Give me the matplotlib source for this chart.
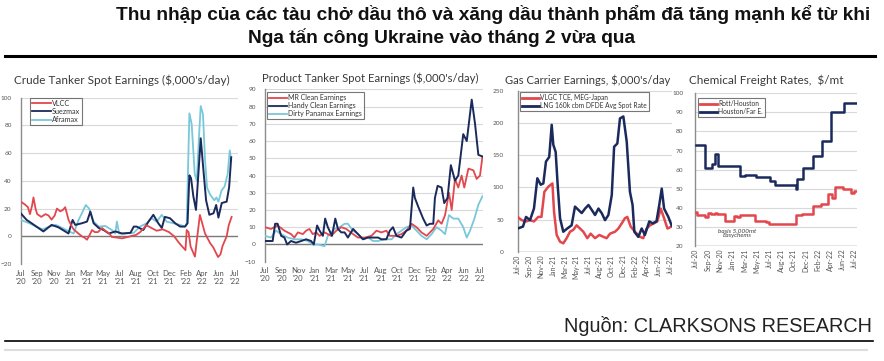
import matplotlib
matplotlib.use('Agg')
import matplotlib.pyplot as plt
from matplotlib import font_manager as fm
from matplotlib.lines import Line2D

W, H, DPI = 884, 361, 100

def have(f):
    try:
        fm.findfont(fm.FontProperties(family=f), fallback_to_default=False)
        return True
    except Exception:
        return False

NARROW = 'Liberation Sans Narrow' if have('Liberation Sans Narrow') else 'Liberation Sans'
SANS = 'Liberation Sans' if have('Liberation Sans') else 'DejaVu Sans'
PANEL = 'Lato' if have('Lato') else 'DejaVu Sans'

# ---------------- data ----------------
tick_weeks = [0, 8, 16, 24, 32, 40, 48, 56, 64, 72, 80, 88, 96, 104]
labels_two_line = ["Jul\n'20", "Sep\n'20", "Nov\n'20", "Jan\n'21", "Mar\n'21", "May\n'21", "Jul\n'21",
                   "Aug\n'21", "Oct\n'21", "Dec\n'21", "Feb\n'22", "Apr\n'22", "Jun\n'22", "Jul\n'22"]
labels_rot = ["Jul-20", "Sep-20", "Nov-20", "Jan-21", "Mar-21", "May-21", "Jul-21",
              "Aug-21", "Oct-21", "Dec-21", "Feb-22", "Apr-22", "Jun-22", "Jul-22"]

# Crude tanker spot earnings ($,000's/day)
vlcc_w = [0, 2, 3.5, 4.5, 5.5, 6.2, 7.2, 8, 10, 12, 13.5, 15, 16.5, 17.6, 19.2, 20.5, 21.6, 22.5, 23.2, 24.5,
          25.7, 28, 29.7, 31, 32.2, 33.5, 34.6, 36, 37.5, 39.5, 41.5, 43, 44.3, 47, 49.2, 52, 54, 56, 58, 61,
          63.5, 66, 69, 72, 74.5, 77, 80, 80.6, 81.5, 82.5, 84.6, 85.5, 87, 89.5, 92, 93.5, 95.8, 97, 98, 100,
          101, 102.4]
vlcc_v = [25, 23, 21, 16, 22, 28, 20, 16, 14, 16, 15, 12, 15, 20, 18, 19, 21, 16, 12, 8,
          5, 2, 0, -1, -2.5, 1, 4.5, 3, 3, 6, 3.5, 2, -0.5, -1, -1.5, -0.5, 0.3, 1, 3, 8,
          6, 4, 5, 3, 0, -5, -10, 4.5, 3, -7.5, -14.7, -3, 15.4, 2, -5, -8, -15, -13, -7, 0,
          8, 14]
suez_w = [0, 2.9, 5.3, 8.6, 11, 15, 18.3, 21.6, 23.2, 25.2, 26.5, 29.7, 32.2, 33.8, 35.4, 37.9, 40.3, 42.8,
          46, 49.2, 53.3, 54.9, 56.3, 59.5, 62, 64.4, 66.8, 68.5, 70, 72.5, 75, 77.4, 79.8, 81, 81.9, 82.7,
          83.8, 85.1, 87.4, 88.7, 90, 91.6, 93.6, 94.9, 96, 97.6, 100, 101.2, 102.2]
suez_v = [16.6, 11.8, 9.4, 6, 3.5, 8.2, 6.5, 3.5, 2, 11.8, 8.2, 9.4, 10.6, 17.8, 9.4, 6, 4.5, 2,
          3.5, 2, 2.5, 7, 7, 4.5, 10.5, 15.5, 9.4, 6, 14, 13, 9.4, 7, 7, 9.4, 44, 42,
          29, 19, 70.7, 48, 26, 15.5, 16.6, 22.6, 13.5, 24, 25, 35.5, 57]
afra_w = [0, 4.2, 7.4, 10.7, 13.9, 17, 20.2, 23.5, 25.7, 28.1, 29.7, 31.6, 33.2, 35.4, 37.9, 41, 44.3, 45.9,
          46.7, 47.8, 50.7, 54.9, 57.9, 61.2, 63.6, 66, 68.5, 70.9, 74.2, 77.4, 79.8, 80.6, 81.9, 83, 84.5,
          85.5, 86.5, 87.4, 88.5, 89.5, 90.5, 92, 94, 95, 96, 97.5, 99, 100.5, 101.5, 102.2]
afra_v = [11.8, 9.4, 7, 5, 7, 8.2, 6, 3.5, 2, 11.8, 16.6, 22.6, 20, 10.6, 7, 7.5, 4.5, 2,
          10.6, 2, 2, 2.5, 7, 9.4, 13, 10.5, 15.5, 10.5, 9.4, 8.2, 7, 9.4, 88.7, 81, 45,
          40, 70, 94, 88, 55, 35, 30, 26, 28, 25, 33, 36, 45, 62, 55]

# Product tanker spot earnings ($,000's/day)
mr_w = [0, 2.9, 6.1, 9.4, 12.6, 14.2, 15.9, 18.3, 19.9, 21.5, 23.1, 24.8, 26.4, 28.8, 32.0, 34.5, 36.9, 39.3,
        42.6, 45.0, 48.2, 51.5, 53.9, 56.3, 58.7, 60.4, 63.6, 66.0, 68.4, 70.9, 73.3, 75.7, 78.2, 79.8, 81.4,
        83.8, 85.4, 87.1, 89.0, 90.3, 91.9, 93.5, 95.1, 96.4, 98.4, 100.8, 102.4, 104.0, 105.2]
mr_v = [10, 9, 11, 8, 6, 4, 7, 6, 8, 9, 6, 7, 5, 7, 5, 8, 10, 9,
        6, 4, 4, 5, 8, 7, 8, 5, 5, 6, 8, 12, 10, 7, 5, 7, 9,
        14, 12, 17, 30, 20, 38, 33, 40, 33, 44, 43, 38, 40, 51]
handy_w = [0, 2.1, 3.7, 4.9, 6.1, 7.8, 9.4, 10.7, 12.6, 15.0, 17.5, 19.9, 22.3, 23.6, 25.2, 26.4, 28.0, 29.1,
           30.4, 32.4, 34.0, 35.3, 36.9, 38.5, 40.1, 42.6, 45.0, 47.4, 49.8, 52.3, 54.7, 56.3, 58.7, 60.4,
           61.9, 63.6, 66.0, 68.4, 70.1, 71.7, 72.5, 74.1, 76.5, 78.2, 79.8, 81.4, 82.2, 83.5, 85.4, 86.7,
           88.3, 89.9, 91.9, 93.5, 95.9, 97.6, 100.0, 101.6, 103.2, 105.2]
handy_v = [2, 2, 2, 12, 12, 5, 4, 0, 2, 1, 2, 3, 2, 0, 11, 8, 5, 15,
           10, 5, 15, 9, 7, 7, 4, 9, 6, 3, 4, 4, 4, 3, 3, 8,
           10, 5, 4, 8, 9, 33, 27, 22, 15, 11, 12, 12, 27, 34, 33, 24,
           27, 46, 37, 40, 64, 60, 84, 70, 52, 51]
pmax_w = [0, 2.9, 5.3, 7.8, 11.0, 14.2, 17.5, 20.7, 23.1, 25.6, 28.8, 30.4, 33.7, 36.1, 38.5, 40.1, 42.6, 45.0,
          47.4, 49.8, 52.3, 54.7, 57.9, 61.2, 63.6, 66.0, 68.4, 70.9, 73.3, 75.7, 78.2, 80.6, 83.0, 85.4,
          87.1, 89.0, 91.1, 93.5, 95.9, 97.6, 99.2, 101.3, 103.2, 105.2]
pmax_v = [5, 4, 8, 6, 4, 3, 3, 2, 0, 0, -1, 5, 9, 10, 12, 12, 8, 6,
          3, 4, 2, 2, 3, 3, 6, 8, 10, 11, 8, 5, 3, 6, 10, 8,
          6, 17, 15, 15, 10, 4, 8, 15, 23, 28]

# Gas carrier earnings ($,000's/day)
lng_w = [0, 3.6, 5.7, 8.4, 11.1, 13.4, 15.7, 17.5, 19.3, 21.5, 23.2, 24.3, 25.9, 27.3, 28.9, 31.1, 33.8, 36.8,
         39.1, 41.4, 43.7, 46, 48.3, 50.5, 52.8, 55.1, 57.3, 59.6, 61.9, 64.2, 65.8, 68, 69.8, 72.1, 74.4,
         76.6, 78.4, 79.6, 82.3, 84.6, 86.8, 89.8, 92, 94.7, 96.6, 98.3, 99.9, 102.8, 105]
lng_v = [36, 39, 54, 49, 67, 114, 104, 106, 140, 147, 197, 166, 155, 103, 52, 31, 36, 41,
         70, 65, 60, 67, 72.5, 65, 57, 67, 60, 49, 57, 88, 163, 168, 207, 210, 171,
         93, 72.5, 31, 23, 36, 26, 47, 44, 47, 72.5, 98, 67, 54, 41]
vlgc_w = [0, 2.7, 5.7, 8.4, 11.1, 14, 16.2, 18.2, 20.9, 23.7, 24.8, 26.6, 28.9, 31.1, 33.4, 35.7, 38, 40.2,
          42.5, 44.8, 47.5, 49.8, 52.8, 55.7, 58.5, 60.7, 63, 66.4, 68.7, 71, 73.2, 74.8, 77.1, 80, 83.5,
          85.7, 88, 90.3, 93, 95.3, 97.6, 99.9, 102.2, 105]
vlgc_v = [54, 49, 47, 49, 47, 54, 54, 93, 101, 106, 62, 26, 15.5, 13, 21, 31, 34, 41,
          36, 31, 21, 28, 21, 26, 23, 21, 28, 31, 36, 44, 52, 54, 39, 31, 23,
          21, 36, 41, 44, 47, 67, 52, 36, 39]

# Chemical freight rates ($/mt), step series: week of change, new level
hfe_w = [0, 3.9, 6, 10.4, 12.6, 14.8, 29, 32, 39.8, 48.5, 51.7, 63.7, 65.4, 66.5, 70.2, 76.7, 82.6, 88.7,
         97.4, 105]
hfe_v = [73, 73, 61, 63, 68, 62, 56.5, 57, 56, 54, 52, 52, 50, 55, 61, 67, 75, 90, 95, 95]
rott_w = [0, 1, 3.9, 6, 8, 10, 12.6, 14, 19, 22, 25, 27, 29, 37, 39, 46, 48, 65.9, 69.8, 76.7, 82.2, 86.5,
          89.3, 91.3, 96.3, 101.7, 104, 105]
rott_v = [38, 36, 36, 35, 37.5, 37, 37.5, 37, 33, 33, 35.5, 35, 36.5, 36.5, 33, 32.5, 31.5, 36, 37, 41, 42, 47,
          45, 51, 50, 48, 49, 49]

# ---------------- style ----------------
RED = '#e2474d'
NAVY = '#1b2a5c'
LBLUE = '#78c8da'
GRID = '#d9d9d9'
ZERO = '#7a7a7a'

fig = plt.figure(figsize=(W / DPI, H / DPI), dpi=DPI)
fig.patch.set_facecolor('white')


def px_rect(l, t, r, b):
    return [l / W, 1 - b / H, (r - l) / W, (b - t) / H]


def fx(x):
    return x / W


def fy(y):
    return 1 - y / H


def fit(t, target_px):
    fig.canvas.draw()
    r = fig.canvas.get_renderer()
    w = t.get_window_extent(r).width
    t.set_fontsize(t.get_fontsize() * target_px / w)


def style_axes(ax, ylim, yticks, xlim, zero, ylab_pad, rot):
    ax.set_ylim(*ylim)
    ax.set_xlim(*xlim)
    for s in ['top', 'right', 'bottom']:
        ax.spines[s].set_visible(False)
    ax.spines['left'].set_color('#8c8c8c')
    ax.spines['left'].set_linewidth(1.0)
    ax.set_yticks(yticks)
    ax.tick_params(axis='y', length=0, pad=ylab_pad, labelsize=4.6, labelcolor='#555555')
    for yv in yticks:
        if yv == zero:
            ax.axhline(yv, color=ZERO, lw=1.0, zorder=1)
        else:
            ax.axhline(yv, color=GRID, lw=0.8, zorder=0)
    ax.set_xticks(tick_weeks)
    if rot:
        ax.set_xticklabels(labels_rot, rotation=90, fontsize=5.0, color='#555555', family=PANEL)
        ax.tick_params(axis='x', length=0, pad=2)
    else:
        ax.set_xticklabels(labels_two_line, fontsize=5.6, color='#555555', family=PANEL, linespacing=1.2)
        ax.tick_params(axis='x', length=0, pad=4)
    for lab in ax.get_yticklabels():
        lab.set_family(PANEL)


def panel_title(text, cx, cy, width):
    t = fig.text(fx(cx), fy(cy), text, ha='center', va='center', fontsize=7, color='#3a3a3a', family=PANEL)
    fit(t, width)


def legend(ax, handles, anchor, fs, lw):
    hs = [Line2D([0], [0], color=c, lw=lw) for c, _ in handles]
    lg = ax.legend(hs, [l for _, l in handles], loc='upper left', bbox_to_anchor=anchor, borderaxespad=0,
                   frameon=True, fancybox=False, handlelength=2.6, handletextpad=0.1,
                   labelspacing=0.15, borderpad=0.3, prop={'family': PANEL, 'size': fs})
    lg.get_frame().set_edgecolor('#555555')
    lg.get_frame().set_linewidth(0.8)
    for t in lg.get_texts():
        t.set_color('#333333')


# Panel 1
ax1 = fig.add_axes(px_rect(20.7, 97.7, 238, 264))
style_axes(ax1, (-20, 100), [-20, 0, 20, 40, 60, 80, 100], (0, 105.5), 0, 6.5, False)
ax1.plot(afra_w, afra_v, color=LBLUE, lw=1.3, zorder=3)
ax1.plot(suez_w, suez_v, color=NAVY, lw=1.4, zorder=4)
ax1.plot(vlcc_w, vlcc_v, color=RED, lw=1.3, zorder=5)
legend(ax1, [(RED, 'VLCC'), (NAVY, 'Suezmax'), (LBLUE, 'Aframax')], (0.043, 1.0), 5.2, 1.3)
panel_title("Crude Tanker Spot Earnings ($,000's/day)", 122, 80.5, 215)

# Panel 2
ax2 = fig.add_axes(px_rect(265, 89.3, 483.3, 261.7))
style_axes(ax2, (-10, 90), list(range(-10, 91, 10)), (0, 105.6), 0, 6.5, False)
ax2.plot(pmax_w, pmax_v, color=LBLUE, lw=1.3, zorder=3)
ax2.plot(mr_w, mr_v, color=RED, lw=1.3, zorder=4)
ax2.plot(handy_w, handy_v, color=NAVY, lw=1.4, zorder=5)
legend(ax2, [(RED, 'MR Clean Earnings'), (NAVY, 'Handy Clean Earnings'), (LBLUE, 'Dirty Panamax Earnings')],
       (0.01, 0.985), 5.0, 1.3)
panel_title("Product Tanker Spot Earnings ($,000's/day)", 370, 78, 216)

# Panel 3
ax3 = fig.add_axes(px_rect(517.7, 90.7, 671.7, 251.7))
style_axes(ax3, (0, 250), [0, 50, 100, 150, 200, 250], (0, 105.1), 0, 10, True)
ax3.plot(vlgc_w, vlgc_v, color=RED, lw=1.8, zorder=3)
ax3.plot(lng_w, lng_v, color=NAVY, lw=1.8, zorder=4)
legend(ax3, [(RED, 'VLGC TCE, MEG-Japan'), (NAVY, 'LNG 160k cbm DFDE Avg Spot Rate')], (0.015, 0.99), 4.8, 2.0)
panel_title("Gas Carrier Earnings, $,000's/day", 587.5, 80, 165)

# Panel 4
ax4 = fig.add_axes(px_rect(695, 93.3, 856.7, 246))
style_axes(ax4, (20, 100), list(range(20, 101, 10)), (-0.5, 105.5), 20, 8.5, True)
ax4.plot(rott_w, rott_v, color=RED, lw=1.8, drawstyle='steps-post', zorder=3)
ax4.plot(hfe_w, hfe_v, color=NAVY, lw=1.8, drawstyle='steps-post', zorder=4)
legend(ax4, [(RED, 'Rott/Houston'), (NAVY, 'Houston/Far E.')], (0.019, 0.97), 4.8, 2.0)
ax4.text(0.26, 0.085, "basis 5,000mt\nEasychems", transform=ax4.transAxes, ha='center', va='center',
         fontsize=4.6, style='italic', color='#404040', family=PANEL, linespacing=1.0)
panel_title("Chemical Freight Rates,  $/mt", 766, 80.5, 153)

# Main title
t1 = fig.text(fx(493), fy(15), "Thu nhập của các tàu chở dầu thô và xăng dầu thành phẩm đã tăng mạnh kể từ khi",
              ha='center', va='center', fontsize=13, fontweight='bold', family=[NARROW, 'DejaVu Sans'],
              color='#111111')
fit(t1, 754)
t2 = fig.text(fx(441), fy(37.5), "Nga tấn công Ukraine vào tháng 2 vừa qua", ha='center', va='center',
              fontsize=t1.get_fontsize(), fontweight='bold', family=[NARROW, 'DejaVu Sans'], color='#111111')

# Rules
fig.add_artist(Line2D([fx(5), fx(875)], [fy(56), fy(56)], color='black', lw=2.2))
fig.add_artist(Line2D([fx(5), fx(873)], [fy(341), fy(341)], color='black', lw=1.2))
fig.add_artist(Line2D([fx(5), fx(867)], [fy(350), fy(350)], color='#dddddd', lw=1.5))

# Source
ts = fig.text(fx(872), fy(326), "Nguồn: CLARKSONS RESEARCH", ha='right', va='center', fontsize=11,
              family=[SANS, 'DejaVu Sans'], color='#222222')
fit(ts, 307)

fig.savefig('out.png', dpi=DPI, facecolor='white')
